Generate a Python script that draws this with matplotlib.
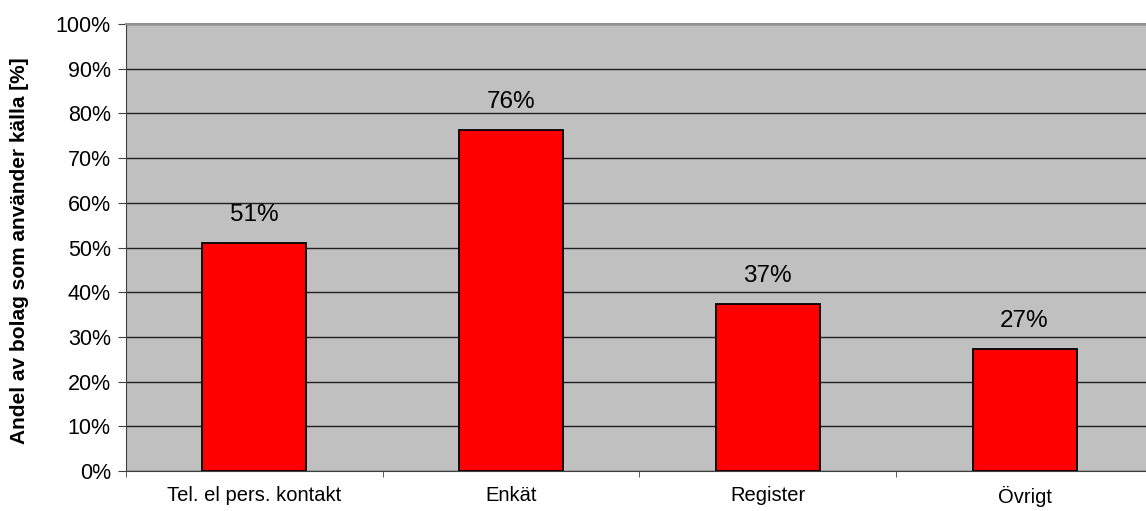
import numpy as np
import matplotlib.pyplot as plt
from matplotlib.ticker import FixedLocator, NullFormatter

plt.rcParams['font.family'] = ['Liberation Sans', 'DejaVu Sans']

categories = ['Tel. el pers. kontakt', 'Enkät', 'Register', 'Övrigt']
values = [51.1, 76.4, 37.3, 27.4]
labels = ['51%', '76%', '37%', '27%']
yticks = [0, 10, 20, 30, 40, 50, 60, 70, 80, 90, 100]

fig = plt.figure(figsize=(11.46, 5.11), dpi=100)
# plot area runs slightly past the right edge of the image, as in the original
ax = fig.add_axes([0.110, 0.078, 0.896, 0.875])
ax.set_facecolor('#c0c0c0')

x = np.arange(len(categories))
ax.bar(x, values, width=0.405, color='#ff0000', edgecolor='black', linewidth=1.3, zorder=3)
for xi, v, lab in zip(x, values, labels):
    ax.text(xi, v + 3.8, lab, ha='center', va='bottom', fontsize=17.5)

ax.set_xlim(-0.5, len(categories) - 0.5)
ax.set_ylim(0, 100)
ax.set_yticks(yticks)
ax.set_yticklabels([f'{t}%' for t in yticks], fontsize=15.5)
ax.yaxis.grid(True, color='#202020', linewidth=1.0, zorder=1)
ax.set_axisbelow(True)

ax.set_xticks(x)
ax.set_xticklabels(categories, fontsize=14.5)
ax.tick_params(axis='x', which='major', length=0, pad=11)
ax.xaxis.set_minor_locator(FixedLocator(np.arange(-0.5, len(categories), 1.0)))
ax.xaxis.set_minor_formatter(NullFormatter())
ax.tick_params(axis='x', which='minor', length=4, color='#404040')
ax.tick_params(axis='y', length=6, color='#404040', pad=5)

ax.set_ylabel('Andel av bolag som använder källa [%]', fontsize=15, fontweight='bold')
ax.yaxis.set_label_coords(-0.0944, 0.494)

ax.spines['top'].set_color('#909090')
ax.spines['top'].set_linewidth(1.5)
ax.spines['right'].set_visible(False)
ax.spines['left'].set_color('#404040')
ax.spines['bottom'].set_color('#404040')

fig.savefig('out.png', dpi=100)
